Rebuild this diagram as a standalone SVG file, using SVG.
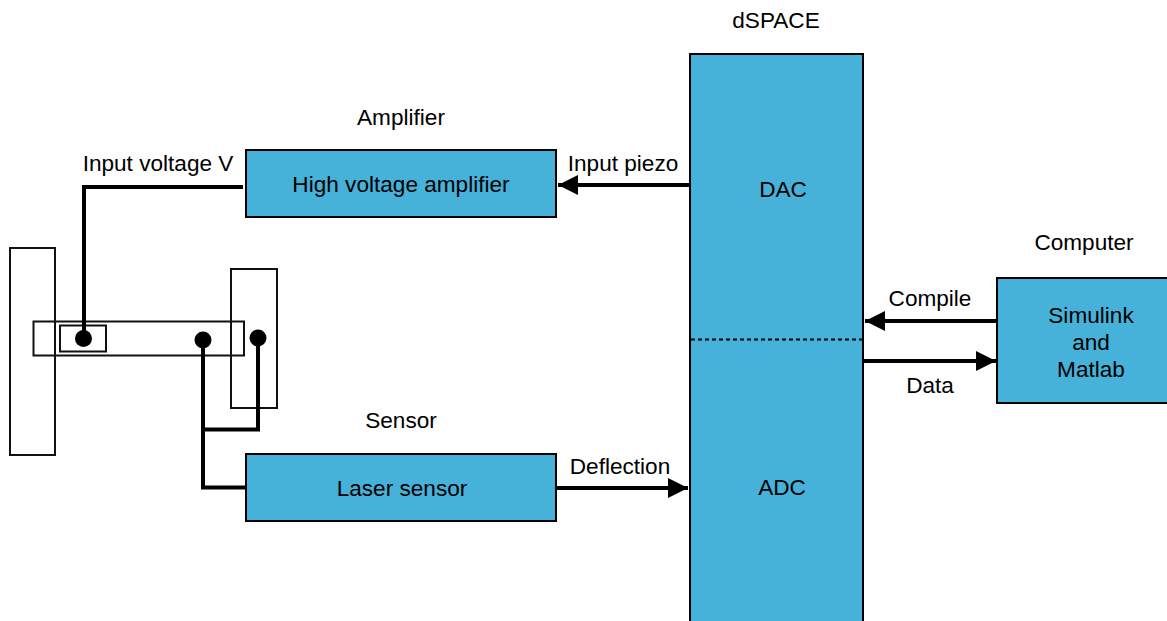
<svg xmlns="http://www.w3.org/2000/svg" width="1167" height="621" viewBox="0 0 1167 621">
<style>
.b{fill:#46b1d9;stroke:#000;stroke-width:2}
.o{fill:none;stroke:#111;stroke-width:2}
.w{fill:none;stroke:#000;stroke-width:4}
text{font-family:"Liberation Sans",Arial,sans-serif;font-size:22.600px;fill:#000;text-anchor:middle}
</style>
<defs><marker id="a" markerUnits="userSpaceOnUse" markerWidth="22" markerHeight="22" refX="20" refY="10" orient="auto"><path d="M0 0L20 10L0 20Z" fill="#000"/></marker></defs>
<rect width="1167" height="621" fill="#fff"/>
<g id="dspace"><rect class="b" x="690" y="54" width="173" height="570"/><path d="M691 339.500H862" fill="none" stroke="#000" stroke-width="2" stroke-dasharray="4 3"/><text x="776" y="28">dSPACE</text><text x="783" y="197">DAC</text><text x="782" y="495">ADC</text></g>
<g id="amplifier"><rect class="b" x="246" y="150" width="310" height="67"/><text x="401" y="125">Amplifier</text><text x="401" y="192">High voltage amplifier</text></g>
<g id="sensor"><rect class="b" x="246" y="454" width="310" height="67"/><text x="401" y="428">Sensor</text><text x="402" y="496">Laser sensor</text></g>
<g id="computer"><rect class="b" x="997" y="278" width="172" height="125"/><text x="1084" y="250">Computer</text><text x="1091" y="323">Simulink</text><text x="1091" y="350">and</text><text x="1091" y="377">Matlab</text></g>
<g id="beam"><rect class="o" x="10" y="248" width="45" height="207"/><rect class="o" x="231" y="269" width="46" height="139"/><rect class="o" x="33.500" y="321.500" width="210.500" height="34"/><rect class="o" x="60" y="325.500" width="46" height="26"/><circle cx="83.500" cy="338.500" r="8.500"/><circle cx="203" cy="340" r="8.500"/><circle cx="258" cy="338" r="8.500"/></g>
<g id="connectors">
<path class="w" d="M243 187H84V339"/>
<path class="w" d="M203 340V487.500H246"/>
<path class="w" d="M258 338V429.500H203"/>
<path class="w" marker-end="url(#a)" d="M690 185H558"/>
<path class="w" marker-end="url(#a)" d="M556 488H688"/>
<path class="w" marker-end="url(#a)" d="M997 321H865"/>
<path class="w" marker-end="url(#a)" d="M863 361H996"/>
</g>
<g id="labels"><text x="158" y="171">Input voltage V</text><text x="623" y="171">Input piezo</text><text x="620" y="474">Deflection</text><text x="930" y="306">Compile</text><text x="930" y="393">Data</text></g>
</svg>
